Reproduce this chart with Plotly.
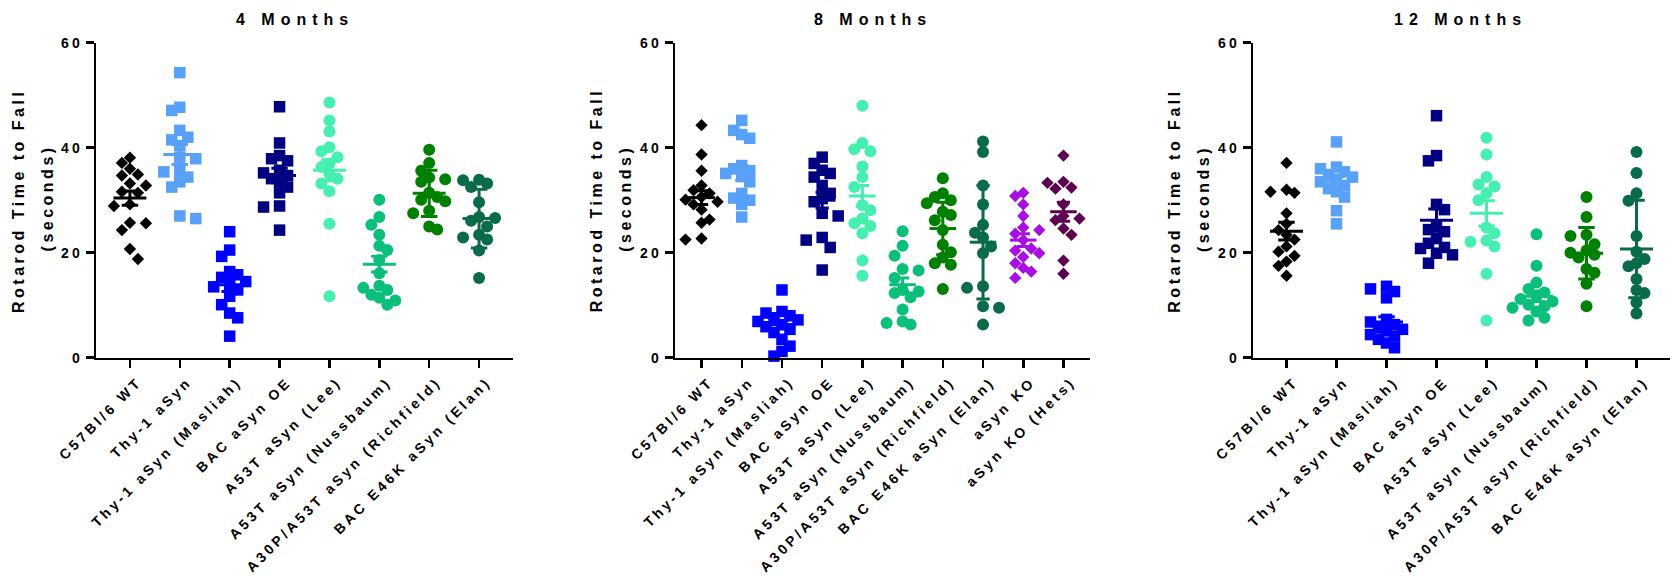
import plotly.graph_objects as go

# ---------------- data ----------------
groups_a = ["C57Bl/6 WT", "Thy-1 aSyn", "Thy-1 aSyn (Masliah)", "BAC aSyn OE",
            "A53T aSyn (Lee)", "A53T aSyn (Nussbaum)", "A30P/A53T aSyn (Richfield)",
            "BAC E46K aSyn (Elan)"]
groups_b = groups_a + ["aSyn KO", "aSyn KO (Hets)"]

colors = ["#000000", "#58A0F8", "#0000FF", "#000080", "#46EFB0", "#0ABF7A",
          "#008000", "#0A6B48", "#A90FE2", "#5E0050"]
symbols = ["diamond", "square", "square", "square", "circle", "circle",
           "circle", "circle", "diamond", "diamond"]

titles = ["4 Months", "8 Months", "12 Months"]
y_title_1 = "Rotarod Time to Fall"
y_title_2 = "(seconds)"
y_ticks = [0, 20, 40, 60]

m4_values = [
    [38.1, 37.1, 36.0, 34.9, 34.7, 33.2, 32.8, 31.6, 31.4, 29.2, 28.9, 25.7, 25.6, 24.3, 20.7, 18.8],
    [54.3, 47.7, 47.1, 43.3, 42.0, 41.5, 40.4, 38.2, 37.9, 35.7, 35.4, 34.4, 33.5, 32.5, 27.0, 26.5],
    [24.0, 20.5, 19.3, 16.4, 15.8, 15.3, 14.5, 13.9, 13.5, 12.9, 11.7, 10.1, 8.5, 7.6, 4.1],
    [47.8, 40.9, 38.5, 37.9, 37.5, 35.7, 35.2, 34.7, 34.1, 33.5, 32.5, 31.4, 28.9, 28.7, 24.3],
    [48.6, 45.2, 43.1, 40.1, 39.3, 38.2, 37.0, 36.3, 35.0, 34.1, 33.2, 31.7, 25.5, 11.7],
    [30.1, 26.8, 25.3, 23.4, 21.3, 20.5, 18.6, 16.1, 13.7, 13.3, 12.9, 12.0, 11.4, 10.9, 10.1],
    [39.6, 37.1, 35.6, 34.3, 34.0, 33.5, 31.4, 30.6, 30.1, 29.8, 28.0, 27.5, 25.0, 24.4],
    [33.9, 33.8, 33.2, 32.5, 29.6, 26.8, 26.6, 26.1, 25.0, 23.4, 22.9, 22.5, 20.4, 15.2],
]
m4_mean = [30.4, 38.7, 13.9, 34.7, 35.7, 17.8, 31.3, 26.5]
m4_err = [1.35, 1.9, 1.3, 1.4, 2.0, 1.5, 4.4, 5.6]

m8_values = [
    [44.3, 38.7, 35.6, 32.8, 31.9, 31.3, 30.6, 30.1, 29.7, 29.2, 28.2, 26.3, 25.7, 22.7, 22.5],
    [45.2, 43.3, 42.5, 41.8, 36.6, 36.0, 35.6, 35.1, 34.5, 33.5, 31.3, 30.4, 30.0, 29.2, 26.8],
    [12.9, 8.8, 8.5, 8.0, 7.6, 7.2, 6.9, 6.3, 5.9, 5.4, 4.8, 3.5, 2.2, 1.2, 0.3],
    [38.2, 37.0, 35.7, 35.1, 34.4, 32.8, 31.3, 30.3, 29.7, 27.5, 27.0, 22.9, 22.4, 21.0, 16.7],
    [48.0, 40.9, 39.7, 39.3, 36.4, 34.4, 32.5, 29.1, 28.1, 26.5, 25.6, 25.1, 23.7, 18.5, 15.6],
    [24.1, 21.3, 19.4, 16.9, 16.6, 15.2, 12.9, 12.6, 12.3, 11.5, 9.2, 6.9, 6.6, 6.3],
    [34.2, 31.3, 30.6, 30.0, 29.4, 27.8, 27.2, 26.2, 24.3, 21.5, 20.1, 19.1, 18.0, 17.7, 13.1],
    [41.2, 39.2, 32.8, 29.2, 25.3, 23.8, 22.9, 21.2, 19.9, 13.6, 13.3, 9.8, 9.5, 6.3],
    [31.4, 30.8, 29.2, 27.0, 24.8, 24.3, 23.6, 22.4, 20.8, 20.4, 19.9, 19.2, 18.0, 17.1, 16.4, 15.2],
    [38.5, 33.5, 33.3, 32.4, 32.2, 29.2, 27.0, 26.5, 26.2, 24.6, 23.4, 18.5, 16.0],
]
m8_mean = [30.5, 35.2, 6.3, 30.0, 30.8, 13.9, 24.6, 22.0, 22.4, 27.8]
m8_err = [1.3, 1.4, 0.8, 1.5, 2.0, 1.3, 5.0, 10.8, 1.2, 1.8]

m12_values = [
    [37.1, 32.0, 31.6, 31.4, 27.5, 25.5, 24.3, 23.4, 22.5, 21.2, 20.2, 19.4, 18.3, 17.5, 15.6],
    [41.1, 36.3, 36.0, 35.4, 34.9, 34.4, 34.0, 33.5, 32.8, 32.2, 31.6, 30.6, 28.0, 25.5],
    [13.6, 13.1, 12.6, 11.4, 7.3, 6.8, 6.3, 5.7, 5.4, 5.1, 4.4, 4.1, 3.5, 2.8, 1.9],
    [46.1, 38.5, 37.5, 29.2, 28.2, 25.0, 24.4, 24.0, 22.7, 21.8, 21.0, 20.8, 19.9, 19.6, 18.0],
    [41.9, 38.7, 34.4, 33.0, 32.6, 31.3, 30.0, 24.8, 23.7, 22.3, 22.1, 21.2, 16.0, 7.1],
    [23.5, 17.5, 14.3, 13.1, 12.4, 11.7, 11.2, 10.7, 10.1, 9.8, 9.5, 8.8, 7.6, 7.1],
    [30.6, 26.8, 23.4, 23.2, 21.6, 20.4, 20.0, 19.6, 19.1, 16.9, 16.2, 14.1, 9.8],
    [39.2, 35.2, 31.3, 29.9, 23.2, 20.2, 18.8, 18.0, 17.4, 15.0, 12.9, 12.3, 10.5, 8.4],
]
m12_mean = [24.1, 33.6, 6.8, 26.2, 27.5, 11.7, 19.9, 20.7]
m12_err = [1.7, 0.9, 1.0, 2.1, 2.4, 1.0, 4.9, 9.3]

# ---------------- layout geometry (pixels) ----------------
W, H = 1674, 580
FONT = "Liberation Sans, Arial, Helvetica, sans-serif"
y_top_px, y_bot_px = 42.7, 357.7
panels = [
    dict(vals=m4_values, mean=m4_mean, err=m4_err, cats=groups_a, x0=96, x1=513, pad=0.68),
    dict(vals=m8_values, mean=m8_mean, err=m8_err, cats=groups_b, x0=675, x1=1090, pad=0.66),
    dict(vals=m12_values, mean=m12_mean, err=m12_err, cats=groups_a, x0=1253, x1=1670, pad=0.67),
]
title_x_px = [295, 873, 1460]
ytitle1_x_px = [18.3, 596.6, 1175.0]
ytitle2_x_px = [46.7, 625.0, 1203.3]

px_per_y = (y_bot_px - y_top_px) / 60.0


def swarm_offsets(vals, px_per_cat, step_px=8.0, min_dy=10.0):
    """Beeswarm-like horizontal spreading of points (in category units)."""
    order = sorted(range(len(vals)), key=lambda k: -vals[k])
    placed = []
    offs = [0.0] * len(vals)
    pref = -1
    for k in order:
        y = vals[k] * px_per_y
        chosen = 0
        for c in [0, pref, -pref, 2 * pref, -2 * pref, 3 * pref, -3 * pref]:
            ok = True
            for py, pc in placed:
                if pc == c and abs(y - py) < min_dy:
                    ok = False
                    break
                if abs(pc - c) == 1 and abs(y - py) < 3:
                    ok = False
                    break
            if ok:
                chosen = c
                break
        if chosen != 0:
            pref = -1 if chosen > 0 else 1
        placed.append((y, chosen))
        offs[k] = chosen * step_px / px_per_cat
    return offs


fig = go.Figure()
layout = dict(width=W, height=H, margin=dict(l=0, r=0, t=0, b=0, pad=0, autoexpand=False),
              autosize=False, paper_bgcolor="white", plot_bgcolor="white", showlegend=False)

ydom = [1 - y_bot_px / H, 1 - y_top_px / H]
tick_font = dict(family=FONT, size=14, color="black", weight="bold")

for p_i, p in enumerate(panels):
    n = len(p["cats"])
    width_px = p["x1"] - p["x0"]
    px_per_cat = width_px / (n - 1 + 2 * p["pad"])
    xa = "x" if p_i == 0 else f"x{p_i + 1}"
    ya = "y" if p_i == 0 else f"y{p_i + 1}"
    xkey = "xaxis" if p_i == 0 else f"xaxis{p_i + 1}"
    ykey = "yaxis" if p_i == 0 else f"yaxis{p_i + 1}"
    mean_w = 0.66 * px_per_cat
    for g in range(n):
        vals = p["vals"][g]
        offs = swarm_offsets(vals, px_per_cat)
        fig.add_trace(go.Scatter(
            x=[g + o for o in offs], y=vals, mode="markers", xaxis=xa, yaxis=ya,
            cliponaxis=False, hoverinfo="y",
            marker=dict(symbol=symbols[g], color=colors[g],
                        size=9.5 if symbols[g] == "diamond" else (11.5 if symbols[g] == "square" else 12),
                        line=dict(width=0))))
    for g in range(n):
        fig.add_trace(go.Scatter(
            x=[g], y=[p["mean"][g]], mode="markers", xaxis=xa, yaxis=ya, cliponaxis=False,
            marker=dict(symbol="line-ew", size=mean_w / 1.4, color=colors[g],
                        line=dict(width=3, color=colors[g])),
            error_y=dict(type="data", array=[p["err"][g]], visible=True, color=colors[g],
                         thickness=3, width=mean_w / 4)))
    layout[xkey] = dict(domain=[p["x0"] / W, p["x1"] / W], range=[-p["pad"], n - 1 + p["pad"]],
                        anchor=ya, tickmode="array", tickvals=list(range(n)), ticktext=p["cats"],
                        tickangle=-45, showline=True, linewidth=2.5, linecolor="black",
                        ticks="outside", ticklen=8, tickwidth=2.5, tickcolor="black",
                        ticklabelshift=8,
                        showgrid=False, zeroline=False, tickfont=tick_font, fixedrange=True,
                        automargin=False)
    layout[ykey] = dict(domain=ydom, range=[0, 60], anchor=xa, tickmode="array",
                        tickvals=y_ticks, ticktext=[str(v) for v in y_ticks],
                        showline=True, linewidth=2.5, linecolor="black",
                        ticks="outside", ticklen=8, tickwidth=2.5, tickcolor="black",
                        showgrid=False, zeroline=False, tickfont=tick_font, fixedrange=True,
                        automargin=False)

annotations = []
for i, t in enumerate(titles):
    annotations.append(dict(text=t, x=title_x_px[i] / W, y=1 - 19 / H, xref="paper", yref="paper",
                            xanchor="center", yanchor="middle", showarrow=False,
                            font=dict(family=FONT, size=16, color="black", weight="bold")))
for i in range(3):
    annotations.append(dict(text=y_title_1, x=ytitle1_x_px[i] / W, y=1 - 200.7 / H, xref="paper",
                            yref="paper", xanchor="center", yanchor="middle", showarrow=False,
                            textangle=-90,
                            font=dict(family=FONT, size=16, color="black", weight="bold")))
for i in range(3):
    annotations.append(dict(text=y_title_2, x=ytitle2_x_px[i] / W, y=1 - 198 / H, xref="paper",
                            yref="paper", xanchor="center", yanchor="middle", showarrow=False,
                            textangle=-90,
                            font=dict(family=FONT, size=16, color="black", weight="bold")))
layout["annotations"] = annotations
fig.update_layout(**layout)

css = (
    'html, body {margin:0 !important; padding:0 !important; overflow:hidden;} '
    'g.annotation[data-index="0"] text, g.annotation[data-index="1"] text, '
    'g.annotation[data-index="2"] text {letter-spacing: 6px;} '
    'g.annotation[data-index="3"] text, g.annotation[data-index="4"] text, '
    'g.annotation[data-index="5"] text, g.annotation[data-index="6"] text, '
    'g.annotation[data-index="7"] text, g.annotation[data-index="8"] text {letter-spacing: 3.5px;} '
    '.xaxislayer-above text {letter-spacing: 3.3px;} '
    '.yaxislayer-above text {letter-spacing: 3px;}'
)
post = ("var s=document.createElement('style');s.textContent='" + css +
        "';document.head.appendChild(s);")

fig.write_html("out.html", post_script=post, config={"displayModeBar": False, "staticPlot": True})
